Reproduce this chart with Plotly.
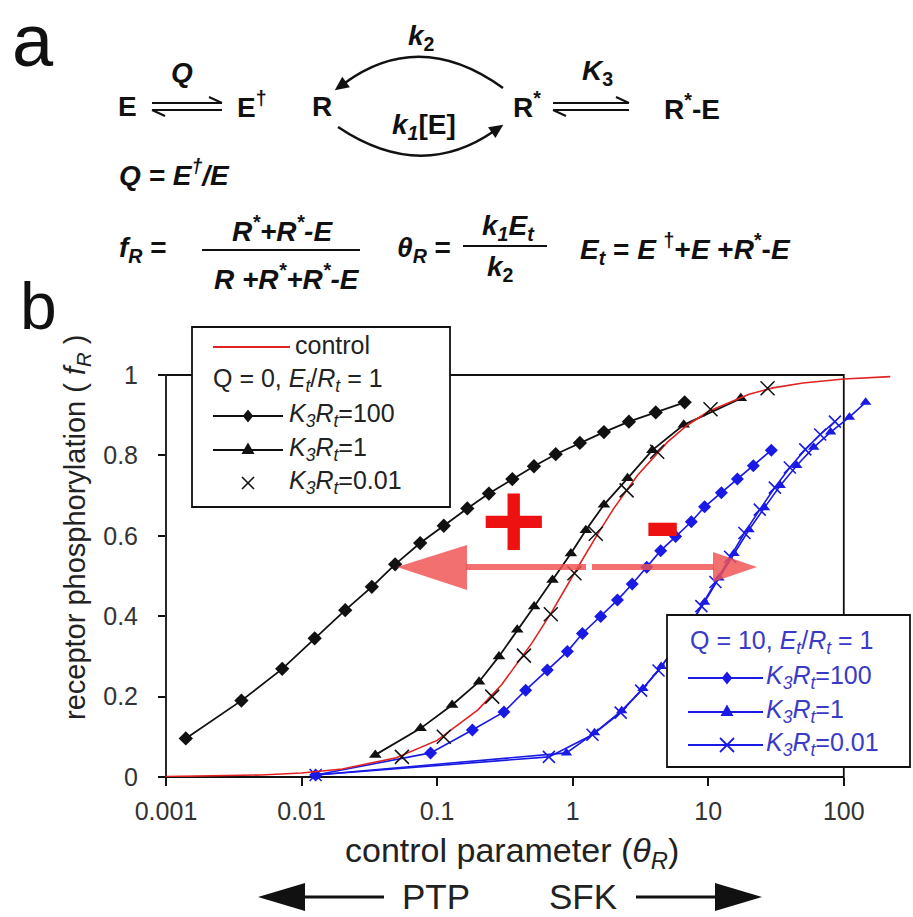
import plotly.graph_objects as go
import numpy as np

# ---------------- data ----------------
theta_control = [0.001, 0.002, 0.005, 0.01, 0.02, 0.05, 0.1, 0.2, 0.3, 0.5, 0.7, 1, 1.5, 2, 3, 5, 7, 10, 20, 30, 50, 100, 220]
f_control = [0.001, 0.002, 0.005, 0.01, 0.02, 0.048, 0.091, 0.167, 0.23, 0.333, 0.41, 0.5, 0.6, 0.667, 0.75, 0.833, 0.875, 0.909, 0.952, 0.968, 0.98, 0.99, 0.996]

theta_q0_k100 = [0.0014, 0.0036, 0.0072, 0.0125, 0.021, 0.033, 0.049, 0.075, 0.112, 0.167, 0.241, 0.359, 0.518, 0.75, 1.13, 1.70, 2.6, 4.1, 6.7]
f_q0_k100 = [0.096, 0.19, 0.269, 0.345, 0.415, 0.473, 0.529, 0.582, 0.625, 0.668, 0.705, 0.741, 0.773, 0.803, 0.831, 0.858, 0.884, 0.907, 0.932]

theta_q0_k1 = [0.035, 0.0755, 0.129, 0.204, 0.286, 0.39, 0.52, 0.71, 0.97, 1.25, 1.70, 2.54, 3.87, 6.6, 17.4]
f_q0_k1 = [0.055, 0.121, 0.179, 0.237, 0.3, 0.366, 0.424, 0.49, 0.556, 0.614, 0.677, 0.743, 0.813, 0.876, 0.942]

theta_q0_k001 = [0.055, 0.112, 0.255, 0.437, 0.69, 1.03, 1.48, 2.5, 4.2, 10.4, 27.4]
f_q0_k001 = [0.05, 0.1, 0.2, 0.302, 0.405, 0.507, 0.605, 0.713, 0.809, 0.915, 0.967]

theta_q10_k100 = [0.0127, 0.0895, 0.182, 0.311, 0.45, 0.65, 0.914, 1.18, 1.61, 2.14, 2.75, 3.52, 4.46, 5.75, 7.5, 9.4, 12.5, 16.4, 21.5, 29.2]
f_q10_k100 = [0.005, 0.06, 0.117, 0.162, 0.216, 0.266, 0.312, 0.357, 0.399, 0.44, 0.48, 0.522, 0.563, 0.598, 0.635, 0.672, 0.707, 0.741, 0.774, 0.813]

theta_q10_k1 = [0.0127, 0.9, 1.45, 2.3, 3.3, 4.5, 5.9, 7.5, 9.4, 12, 15.5, 20, 26, 34, 45, 60, 80, 110, 145]
f_q10_k1 = [0.005, 0.06, 0.11, 0.165, 0.22, 0.275, 0.33, 0.385, 0.435, 0.495, 0.556, 0.615, 0.67, 0.725, 0.775, 0.82, 0.858, 0.895, 0.932]

theta_q10_k001 = [0.0127, 0.668, 1.40, 2.26, 3.2, 4.3, 5.6, 7.1, 8.9, 11.3, 14.5, 18.5, 24, 31, 40, 52, 67, 86]
f_q10_k001 = [0.005, 0.05, 0.105, 0.16, 0.215, 0.265, 0.318, 0.37, 0.425, 0.485, 0.548, 0.607, 0.665, 0.72, 0.77, 0.815, 0.852, 0.884]

x_tick_vals = [0.001, 0.01, 0.1, 1, 10, 100]
x_tick_text = ["0.001", "0.01", "0.1", "1", "10", "100"]
y_tick_vals = [0, 0.2, 0.4, 0.6, 0.8, 1.0]
y_tick_text = ["0", "0.2", "0.4", "0.6", "0.8", "1"]

# ---------------- layout geometry ----------------
FIG_W, FIG_H = 913, 917
L, R, T, B = 166, 898, 375, 777
PW, PH = R - L, B - T
XRANGE = [-3, 2.4]


def fx(p):
    return (p - L) / PW


def fy(p):
    return (B - p) / PH


BLACK = "#111111"
BLUE = "#1a1ae6"
BLUE_TXT = "#3a3ac8"
RED = "#e02222"
SALMON = "rgba(240,80,80,0.82)"
FONT = "Liberation Sans, Arial, Helvetica, sans-serif"
NARROW = "Liberation Sans Narrow, Arial Narrow, Liberation Sans, Arial, sans-serif"

fig = go.Figure()


def series(x, y, color, symbol, size, mode="lines+markers", lw=1.5, mlw=0):
    fig.add_trace(go.Scatter(
        x=x, y=y, mode=mode, cliponaxis=False, showlegend=False,
        line=dict(color=color, width=lw),
        marker=dict(symbol=symbol, size=size, color=color,
                    line=dict(width=mlw, color=color))))


series(theta_q10_k001, f_q10_k001, BLUE, "x-thin", 12, lw=1.6, mlw=1.6)
series(theta_q10_k1, f_q10_k1, BLUE, "triangle-up", 10, lw=1.6)
series(theta_q10_k100, f_q10_k100, BLUE, "diamond", 10, lw=1.6)
series(theta_q0_k100, f_q0_k100, BLACK, "diamond", 11, lw=1.8)
series(theta_q0_k1, f_q0_k1, BLACK, "triangle-up", 11, lw=1.8)
series(theta_control, f_control, RED, "circle", 1, mode="lines", lw=1.6)
series(theta_q0_k001, f_q0_k001, BLACK, "x-thin", 14, mode="markers", mlw=1.5)

shapes = []


def pstr(pts, close=True):
    s = "M " + " L ".join(f"{fx(a):.5f},{fy(b):.5f}" for a, b in pts)
    return s + (" Z" if close else "")


def line(x0, y0, x1, y1, color=BLACK, w=1.5, layer="above"):
    shapes.append(dict(type="line", xref="paper", yref="paper", x0=fx(x0), y0=fy(y0),
                       x1=fx(x1), y1=fy(y1), line=dict(color=color, width=w), layer=layer))


def poly(pts, color, layer="above", lw=0):
    shapes.append(dict(type="path", xref="paper", yref="paper", path=pstr(pts),
                       fillcolor=color, line=dict(color=color, width=lw), layer=layer))


def rect(x0, y0, x1, y1, fill="white", lc=BLACK, w=1.8, layer="above"):
    shapes.append(dict(type="rect", xref="paper", yref="paper", x0=fx(x0), y0=fy(y0),
                       x1=fx(x1), y1=fy(y1), fillcolor=fill, line=dict(color=lc, width=w), layer=layer))


# plot frame (0.001..100, 0..1)
x100 = (2 - XRANGE[0]) / (XRANGE[1] - XRANGE[0])
shapes.append(dict(type="rect", xref="paper", yref="paper", x0=0, y0=0, x1=x100, y1=1,
                   line=dict(color=BLACK, width=1.8), fillcolor="rgba(0,0,0,0)", layer="below"))

# salmon arrows
poly([(466, 564), (586, 564), (586, 570), (466, 570)], SALMON)
poly([(397, 567), (467, 545), (467, 590)], SALMON)
poly([(592, 564), (714, 564), (714, 570), (592, 570)], SALMON)
poly([(757, 567), (713, 552), (713, 582)], SALMON)

# legend boxes
rect(192, 327, 450, 507)
rect(667, 615, 910, 767)


def diamond(cx, cy, h, color):
    poly([(cx, cy - h), (cx + h * 0.8, cy), (cx, cy + h), (cx - h * 0.8, cy)], color)


def tri(cx, cy, h, color):
    poly([(cx, cy - h), (cx + h, cy + h * 0.75), (cx - h, cy + h * 0.75)], color)


def xmark(cx, cy, h, color, w=1.6):
    line(cx - h, cy - h, cx + h, cy + h, color, w)
    line(cx - h, cy + h, cx + h, cy - h, color, w)


# legend 1 samples
line(213, 347, 290, 347, RED, 2)
line(213, 416, 283, 416, BLACK, 1.8)
diamond(248, 416, 6.5, BLACK)
line(213, 450, 283, 450, BLACK, 1.8)
tri(248, 449, 6.5, BLACK)
xmark(248, 483, 6, BLACK)
# legend 2 samples
for yy in (678, 712, 745):
    line(688, yy, 763, yy, BLUE, 1.8)
diamond(727, 678, 6.5, BLUE)
tri(727, 711, 6.5, BLUE)
xmark(727, 745, 7, BLUE, 1.8)

# panel a: equilibrium arrows
for (xa, xb) in ((152, 222), (553, 629)):
    line(xa, 103, xb, 103, BLACK, 2)
    line(xb, 103, xb - 13, 97, BLACK, 2)
    line(xa, 110, xb, 110, BLACK, 2)
    line(xa, 110, xa + 13, 116, BLACK, 2)


def curved_arrow(p0, c, p2):
    p0, c, p2 = np.array(p0, float), np.array(c, float), np.array(p2, float)
    d = p2 - c
    d = d / np.linalg.norm(d)
    n = np.array([-d[1], d[0]])
    end = p2 - d * 8
    shapes.append(dict(type="path", xref="paper", yref="paper",
                       path=f"M {fx(p0[0]):.5f},{fy(p0[1]):.5f} Q {fx(c[0]):.5f},{fy(c[1]):.5f} {fx(end[0]):.5f},{fy(end[1]):.5f}",
                       line=dict(color=BLACK, width=2.5), layer="above"))
    tip = p2 + d * 4
    base = p2 - d * 10
    poly([tuple(tip), tuple(base + n * 6.5), tuple(base - n * 6.5)], BLACK)


curved_arrow((503, 88), (420, 28), (338, 88))
curved_arrow((338, 127), (420, 182), (500, 127))

# fraction bars
line(202, 250, 360, 250, BLACK, 2)
line(463, 246, 547, 246, BLACK, 2)

# PTP / SFK arrows
poly([(258, 897), (305, 883), (305, 911)], BLACK)
line(303, 897, 384, 897, BLACK, 3)
poly([(762, 897), (715, 883), (715, 911)], BLACK)
line(636, 897, 717, 897, BLACK, 3)

fig.update_layout(shapes=shapes)


def text(s, x, y, size, color=BLACK, xanchor="center", family=FONT, angle=0):
    fig.add_annotation(x=fx(x), y=fy(y), xref="paper", yref="paper", text=s, showarrow=False,
                       font=dict(size=size, color=color, family=family), xanchor=xanchor,
                       yanchor="middle", textangle=angle)


# panel labels
text("a", 33, 40, 74)
text("b", 38, 306, 66)

# panel a diagram text
SZ = 28
text("<b><i>Q</i></b>", 182, 72, SZ, family=NARROW)
text("<b>E</b>", 127, 107, SZ, family=NARROW)
text("<b>E<sup>†</sup></b>", 252, 105, SZ, family=NARROW)
text("<b>R</b>", 322, 107, SZ, family=NARROW)
text("<b><i>k</i><sub>2</sub></b>", 421, 37, SZ, family=NARROW)
text("<b><i>k</i><sub><i>1</i></sub>[E]</b>", 424, 127, SZ, family=NARROW)
text("<b>R<sup>*</sup></b>", 527, 105, SZ, family=NARROW)
text("<b><i>K</i><sub>3</sub></b>", 597, 72, SZ, family=NARROW)
text("<b>R<sup>*</sup>-E</b>", 692, 107, SZ, family=NARROW)
text("<b><i>Q = E<sup>†</sup>/E</i></b>", 117, 173, SZ, xanchor="left", family=NARROW)
text("<b><i>f</i><sub><i>R</i></sub> =</b>", 117, 249, SZ, xanchor="left", family=NARROW)
text("<b><i>R<sup>*</sup>+R<sup>*</sup>-E</i></b>", 282, 229, SZ, family=NARROW)
text("<b><i>R +R<sup>*</sup>+R<sup>*</sup>-E</i></b>", 287, 277, SZ, family=NARROW)
text("<b><i>θ</i><sub><i>R</i></sub> =</b>", 395, 249, SZ, xanchor="left", family=NARROW)
text("<b><i>k</i><sub><i>1</i></sub><i>E</i><sub><i>t</i></sub></b>", 508, 228, SZ, family=NARROW)
text("<b><i>k</i><sub>2</sub></b>", 500, 268, SZ, family=NARROW)
text("<b><i>E</i><sub><i>t</i></sub> = <i>E</i> <sup>†</sup>+<i>E</i> +<i>R</i><sup>*</sup>-<i>E</i></b>", 578, 249, SZ, xanchor="left", family=NARROW)

# legend texts
LS = 25
text("control", 293, 345, LS, color="#222", xanchor="left")
text("Q = 0, <i>E</i><sub><i>t</i></sub>/<i>R</i><sub><i>t</i></sub> = 1", 211, 380, LS, color="#222", xanchor="left")
text("<i>K</i><sub><i>3</i></sub><i>R</i><sub><i>t</i></sub>=100", 287, 415, LS, color="#222", xanchor="left")
text("<i>K</i><sub><i>3</i></sub><i>R</i><sub><i>t</i></sub>=1", 287, 449, LS, color="#222", xanchor="left")
text("<i>K</i><sub><i>3</i></sub><i>R</i><sub><i>t</i></sub>=0.01", 287, 482, LS, color="#222", xanchor="left")

text("Q = 10, <i>E</i><sub><i>t</i></sub>/<i>R</i><sub><i>t</i></sub> = 1", 688, 642, LS, color=BLUE_TXT, xanchor="left")
text("<i>K</i><sub><i>3</i></sub><i>R</i><sub><i>t</i></sub>=100", 764, 677, LS, color=BLUE_TXT, xanchor="left")
text("<i>K</i><sub><i>3</i></sub><i>R</i><sub><i>t</i></sub>=1", 764, 711, LS, color=BLUE_TXT, xanchor="left")
text("<i>K</i><sub><i>3</i></sub><i>R</i><sub><i>t</i></sub>=0.01", 764, 744, LS, color=BLUE_TXT, xanchor="left")

# plus / minus
text("<b>+</b>", 513, 520, 112, color="#ee1111")
text("<b>-</b>", 662, 519, 112, color="#ee1111")

# axis titles
text("control parameter (<i>θ</i><sub><i>R</i></sub>)", 512, 852, 34, color="#222")
text("receptor phosphorylation ( <i>f</i><sub><i>R</i></sub> )", 77, 528, 29, color="#222", angle=-90)
text("PTP", 436, 896, 35, color="#222")
text("SFK", 583, 896, 35, color="#222")

fig.update_layout(
    width=FIG_W, height=FIG_H,
    margin=dict(l=L, r=FIG_W - R, t=T, b=FIG_H - B, pad=0),
    paper_bgcolor="white", plot_bgcolor="white",
    showlegend=False,
    xaxis=dict(type="log", range=XRANGE, tickvals=x_tick_vals, ticktext=x_tick_text,
               showgrid=False, zeroline=False, showline=False, ticks="outside", ticklen=8,
               tickwidth=1.8, tickcolor=BLACK, automargin=False, ticklabelstandoff=4,
               tickfont=dict(size=25, color="#333", family=FONT)),
    yaxis=dict(range=[0, 1], tickvals=y_tick_vals, ticktext=y_tick_text,
               showgrid=False, zeroline=False, showline=False, ticks="outside", ticklen=7,
               tickwidth=1.8, tickcolor=BLACK, automargin=False, ticklabelstandoff=15,
               tickfont=dict(size=25, color="#333", family=FONT)),
)

fig.write_html("out.html", config={"displayModeBar": False},
               post_script="document.body.style.margin='0px';")
